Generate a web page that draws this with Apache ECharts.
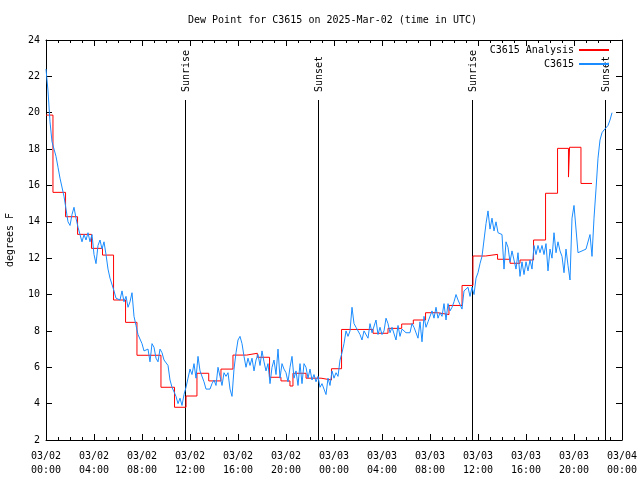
<!DOCTYPE html>
<html>
<head>
<meta charset="utf-8">
<script src="https://cdn.jsdelivr.net/npm/echarts@6/dist/echarts.min.js"></script>
<style>
html,body{margin:0;padding:0;background:#fff;}
#chart{width:640px;height:480px;}
</style>
</head>
<body>
<div id="chart"></div>
<script>
// ---- Data (hours since 2025-03-02 00:00 UTC) ----
var xTickLabels = ['03/02\n00:00','03/02\n04:00','03/02\n08:00','03/02\n12:00','03/02\n16:00','03/02\n20:00',
                   '03/03\n00:00','03/03\n04:00','03/03\n08:00','03/03\n12:00','03/03\n16:00','03/03\n20:00','03/04\n00:00'];

// C3615 Analysis (step values: each value holds from its time to the next time)
var redTimes = [0, 0.58, 1.63, 2.63, 3.79, 4.71, 5.63, 6.63, 7.58, 9.58,
                10.71, 11.67, 12.58, 13.56, 14.58, 15.58, 16.72, 17.61, 18.63, 19.58,
                20.33, 20.58, 21.67, 22.92, 23.79, 24.63, 27.25, 28.5, 29.64, 30.61,
                31.63, 32.63, 33.58, 34.67, 35.58, 36.63, 37.63, 38.67, 39.5, 40.63,
                41.63, 42.63, 43.54, 43.63, 44.58, 45.5];
var redValues = [19.87, 15.62, 14.28, 13.31, 12.54, 12.17, 9.7, 8.47, 6.66, 4.9,
                 3.8, 4.42, 5.67, 5.25, 5.9, 6.67, 6.77, 6.55, 5.45, 5.25,
                 4.97, 5.67, 5.4, 5.3, 5.92, 8.08, 7.87, 8.14, 8.38, 8.6,
                 9.0, 8.9, 9.4, 10.5, 12.12, 12.21, 11.94, 11.72, 11.9, 13.0,
                 15.57, 18.04, 16.46, 18.1, 16.11, 16.11];

// C3615 observations, one value every 10 minutes starting 03/02 00:00
var blueStepMinutes = 10;
var blueValues = [
  22.4, 21.2, 19.5, 18.4, 18.0, 17.6,
  17.0, 16.4, 16.5, 15.4, 14.7, 14.0,
  13.8, 14.4, 14.8, 14.2, 13.7, 13.3,
  12.9, 13.3, 13.0, 13.4, 12.9, 13.3,
  12.2, 11.7, 12.7, 13.0, 12.5, 12.9,
  12.2, 11.4, 10.9, 10.8, 10.2, 9.8,
  9.9, 9.7, 10.2, 9.6, 9.9, 9.3,
  9.6, 10.1, 8.8, 8.3, 7.8, 7.9,
  7.3, 6.9, 6.8, 7.0, 6.3, 7.3,
  7.1, 6.5, 6.3, 7.0, 6.8, 6.4,
  6.3, 6.1, 5.3, 4.9, 4.8, 4.4,
  4.0, 4.3, 3.9, 4.5, 4.9, 5.4,
  5.9, 5.6, 6.2, 5.4, 6.6, 5.8,
  5.7, 5.2, 4.8, 4.7, 4.8, 5.1,
  5.3, 5.0, 6.0, 5.5, 5.0, 5.7,
  5.5, 5.7, 4.8, 4.4, 5.9, 6.8,
  7.5, 7.7, 7.3, 6.6, 6.0, 6.5,
  6.1, 6.5, 5.8, 6.4, 6.7, 6.1,
  6.9, 6.3, 5.8, 6.2, 5.1, 6.0,
  6.4, 5.6, 7.0, 5.4, 6.2, 5.9,
  5.7, 5.2, 6.0, 6.6, 5.4, 5.8,
  5.0, 6.2, 5.1, 6.2, 6.0, 5.4,
  5.9, 5.3, 5.6, 5.2, 5.5, 4.9,
  5.1, 4.8, 4.5, 5.4, 5.0, 5.8,
  5.4, 5.7, 5.5, 6.4, 6.8, 7.3,
  8.0, 7.7, 8.0, 9.3, 8.4, 8.2,
  8.1, 7.8, 7.5, 8.0, 8.1, 7.6,
  8.4, 7.9, 8.0, 8.6, 7.8, 8.2,
  7.8, 8.0, 8.7, 8.4, 7.9, 8.2,
  8.2, 7.5, 8.3, 7.7, 8.1, 8.0,
  7.9, 8.0, 7.9, 8.4, 8.2, 8.3,
  7.6, 8.5, 7.4, 8.8, 8.2, 8.5,
  8.4, 9.1, 8.7, 9.3, 8.7, 9.0,
  8.8, 9.5, 8.6, 9.5, 9.1, 9.3,
  9.6, 10.0, 9.7, 9.8, 9.2, 10.2,
  10.3, 10.4, 9.9, 10.4, 10.0, 10.9,
  11.2, 11.7, 12.1, 13.0, 13.9, 14.6,
  13.6, 14.2, 13.5, 14.0, 13.4, 13.5,
  13.3, 11.4, 12.9, 12.6, 11.8, 12.4,
  12.4, 11.4, 12.3, 11.0, 11.8, 11.1,
  11.8, 11.3, 11.9, 11.4, 12.7, 12.2,
  12.7, 12.3, 12.7, 12.2, 12.8, 11.3,
  12.5, 12.0, 13.4, 12.3, 12.9, 12.4,
  12.1, 11.2, 12.5, 11.6, 10.8, 14.2,
  14.9, 15.0, 12.3, 12.35, 12.4, 12.45,
  12.5, 12.5, 13.3, 12.1, 14.2, 15.8,
  17.5, 18.5, 18.9, 19.05, 19.1, 19.3,
  19.6, 20.0
];

// Sunrise / Sunset markers
var eventTimes = [11.55, 22.69, 35.47, 46.6];
var eventLabels = ['Sunrise', 'Sunset', 'Sunrise', 'Sunset'];

// ---- Build series data ----
var redData = redTimes.map(function (t, i) { return [t, redValues[i]]; });
var blueData = blueValues.map(function (v, i) { return [i * blueStepMinutes / 60, v]; });
var eventData = eventTimes.map(function (t, i) { return [t, i]; });

var FONT = '"DejaVu Sans Mono", "Liberation Mono", monospace';

var chart = echarts.init(document.getElementById('chart'), null, {renderer: 'canvas'});

var axisCommonX = {
  type: 'value', min: 0, max: 48, interval: 4,
  axisLine: {show: true, onZero: false, lineStyle: {color: '#000', width: 1}},
  axisTick: {show: true, inside: true, length: 6, lineStyle: {color: '#000'}},
  minorTick: {show: true, splitNumber: 4, length: 3, lineStyle: {color: '#000'}},
  splitLine: {show: false}
};
var axisCommonY = {
  type: 'value', min: 2, max: 24, interval: 2,
  axisLine: {show: true, onZero: false, lineStyle: {color: '#000', width: 1}},
  axisTick: {show: true, inside: true, length: 6, lineStyle: {color: '#000'}},
  splitLine: {show: false}
};

var option = {
  animation: false,
  backgroundColor: '#fff',
  title: {
    text: 'Dew Point for C3615 on 2025-Mar-02 (time in UTC)',
    left: 188, top: 15, padding: 0,
    textStyle: {fontFamily: FONT, fontSize: 10, fontWeight: 'normal', color: '#000'}
  },
  legend: {
    data: ['C3615 Analysis', 'C3615'],
    orient: 'vertical', right: 30, top: 45, align: 'right',
    itemWidth: 30, itemHeight: 10, itemGap: 4, padding: 0,
    itemStyle: {opacity: 0},
    textStyle: {fontFamily: FONT, fontSize: 10, color: '#000'}
  },
  grid: {left: 46, right: 18, top: 40, bottom: 40, containLabel: false, outerBoundsMode: 'none'},
  xAxis: [
    Object.assign({}, axisCommonX, {
      position: 'bottom',
      axisLabel: {
        show: true, margin: 9, color: '#000', fontFamily: FONT, fontSize: 10, lineHeight: 14,
        formatter: function (v) { return xTickLabels[Math.round(v / 4)]; }
      }
    }),
    Object.assign({}, axisCommonX, {position: 'top', axisLabel: {show: false}})
  ],
  yAxis: [
    Object.assign({}, axisCommonY, {
      position: 'left',
      name: 'degrees F', nameLocation: 'middle', nameGap: 31, nameRotate: 90,
      nameTextStyle: {fontFamily: FONT, fontSize: 10, color: '#000'},
      axisLabel: {show: true, margin: 6, color: '#000', fontFamily: FONT, fontSize: 10}
    }),
    Object.assign({}, axisCommonY, {position: 'right', axisLabel: {show: false}})
  ],
  series: [
    {
      name: 'events', type: 'custom', xAxisIndex: 0, yAxisIndex: 0,
      data: eventData, silent: true, z: 1,
      renderItem: function (params, api) {
        var cs = params.coordSys;
        var px = Math.round(api.coord([api.value(0), 2])[0]) + 0.5;
        var yBottom = cs.y + cs.height;
        var yTop = cs.y + cs.height * 0.15;
        return {
          type: 'group',
          children: [
            {type: 'line', shape: {x1: px, y1: yBottom, x2: px, y2: yTop},
             style: {stroke: '#000', lineWidth: 1}},
            {type: 'text', x: px + 1, y: cs.y + cs.height * 0.13, rotation: Math.PI / 2,
             style: {text: eventLabels[api.value(1)], fill: '#000', font: '10px ' + FONT,
                     align: 'left', verticalAlign: 'middle'}}
          ]
        };
      }
    },
    {
      name: 'C3615 Analysis', type: 'line', data: redData, step: 'end',
      symbol: 'none', showSymbol: false, z: 2,
      lineStyle: {color: '#ff0000', width: 1},
      itemStyle: {color: '#ff0000'}
    },
    {
      name: 'C3615', type: 'line', data: blueData,
      symbol: 'none', showSymbol: false, z: 3,
      lineStyle: {color: '#1a8cff', width: 1},
      itemStyle: {color: '#1a8cff'}
    }
  ]
};
chart.setOption(option);
</script>
</body>
</html>
